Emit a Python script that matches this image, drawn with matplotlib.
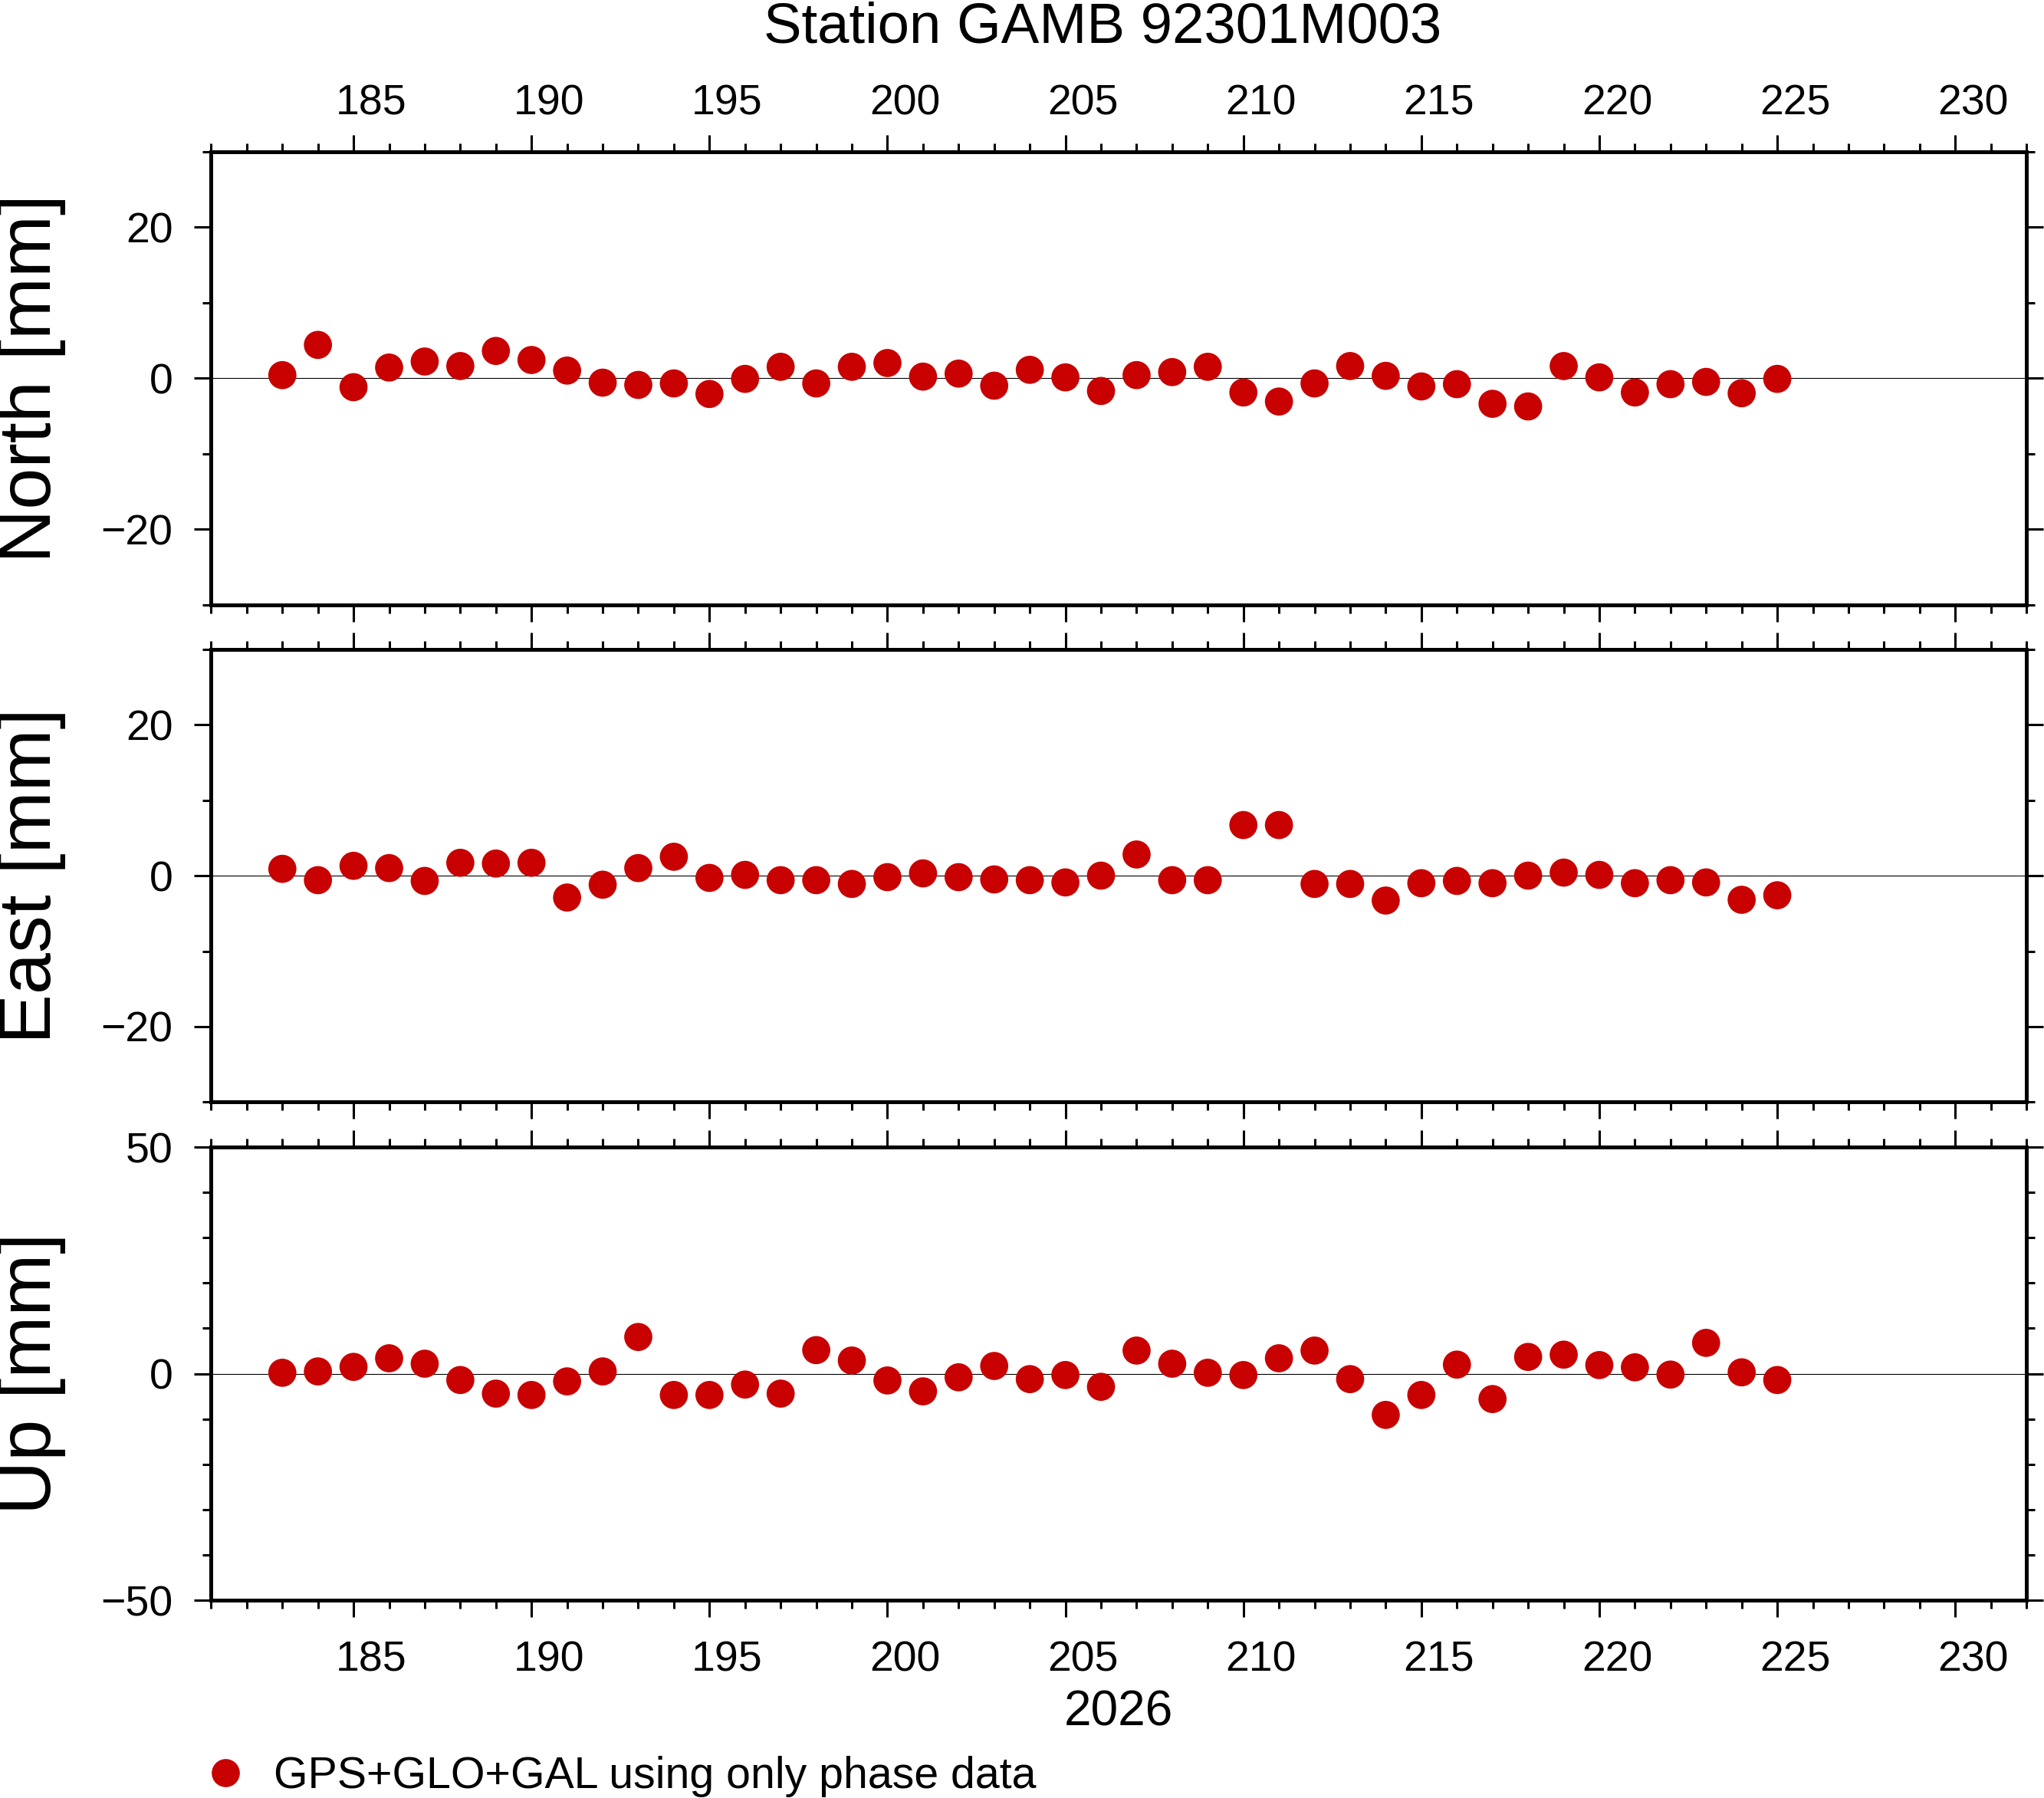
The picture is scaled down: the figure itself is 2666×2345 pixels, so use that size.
import matplotlib
matplotlib.use('Agg')
import matplotlib.pyplot as plt
from matplotlib.ticker import MultipleLocator, FixedLocator, NullFormatter
from matplotlib.transforms import ScaledTranslation
from matplotlib.lines import Line2D

plt.rcParams['font.family'] = ['Liberation Sans', 'DejaVu Sans']
plt.rcParams['axes.unicode_minus'] = True

# ---------------- data ----------------
days = list(range(183, 226))
north = [0.4, 4.4, -1.2, 1.4, 2.2, 1.6, 3.6, 2.4, 1.0, -0.6,
         -0.9, -0.7, -2.1, -0.1, 1.5, -0.7, 1.5, 2.0, 0.2, 0.6,
         -1.0, 1.1, 0.1, -1.7, 0.4, 0.8, 1.5, -1.9, -3.1, -0.7,
         1.6, 0.3, -1.1, -0.8, -3.4, -3.75, 1.6, 0.1, -1.9, -0.8,
         -0.5, -2.0, -0.1]
east = [0.9, -0.6, 1.3, 1.0, -0.7, 1.7, 1.6, 1.7, -2.9, -1.2,
        1.0, 2.5, -0.3, 0.1, -0.6, -0.6, -1.1, -0.2, 0.3, -0.2,
        -0.5, -0.6, -0.9, 0.0, 2.8, -0.6, -0.6, 6.7, 6.7, -1.1,
        -1.1, -3.3, -1.0, -0.7, -1.0, 0.0, 0.4, 0.1, -1.0, -0.6,
        -0.9, -3.2, -2.6]
up = [0.2, 0.5, 1.5, 3.4, 2.2, -1.4, -4.4, -4.7, -1.7, 0.5,
      8.1, -4.7, -4.7, -2.4, -4.4, 5.2, 2.9, -1.5, -3.9, -0.8,
      1.7, -1.2, -0.3, -2.9, 5.1, 2.2, 0.2, -0.3, 3.4, 5.1,
      -1.2, -9.1, -4.7, 2.0, -5.6, 3.7, 4.2, 1.9, 1.4, -0.2,
      6.8, 0.3, -1.4]

components = ["North [mm]", "East [mm]", "Up [mm]"]
series = [north, east, up]
ylims = [(-30, 30), (-30, 30), (-50, 50)]
ymajor = [20, 20, 50]
xticks = [185, 190, 195, 200, 205, 210, 215, 220, 225, 230]
title = "Station GAMB 92301M003"
year_label = "2026"
legend_label = "GPS+GLO+GAL using only phase data"
dot_color = '#c80000'

# ---------------- figure ----------------
DPI = 200
fig = plt.figure(figsize=(2666 / DPI, 2345 / DPI), dpi=DPI)

left, width, height = 0.1033, 0.8881, 0.2520
bottoms = [0.6637, 0.3870, 0.1100]

shift_bottom = ScaledTranslation(23 / DPI, 0, fig.dpi_scale_trans)
shift_top = ScaledTranslation(23 / DPI, -17 / DPI, fig.dpi_scale_trans)

for i, (name, vals, yl, ym, b) in enumerate(zip(components, series, ylims, ymajor, bottoms)):
    ax = fig.add_axes([left, b, width, height])
    ax.axhline(0, color='black', lw=0.4, zorder=1)
    ax.scatter(days, vals, s=13.2 ** 2, color=dot_color, edgecolors='none', zorder=3, clip_on=False)
    ax.set_xlim(181, 232)
    ax.set_ylim(*yl)

    ax.xaxis.set_major_locator(FixedLocator(xticks))
    ax.xaxis.set_minor_locator(MultipleLocator(1))
    ax.yaxis.set_major_locator(MultipleLocator(ym))
    ax.yaxis.set_minor_locator(MultipleLocator(10))

    for sp in ax.spines.values():
        sp.set_linewidth(1.8)

    ax.tick_params(axis='both', which='both', direction='out', top=True, bottom=True,
                   left=True, right=True, width=1.1, colors='black')
    ax.tick_params(axis='both', which='major', length=8)
    ax.tick_params(axis='both', which='minor', length=4)
    ax.tick_params(axis='y', which='major', labelsize=20, pad=10, labelleft=True, labelright=False)
    ax.tick_params(axis='x', which='major', labelsize=20, pad=11,
                   labeltop=(i == 0), labelbottom=(i == 2))
    ax.xaxis.set_minor_formatter(NullFormatter())

    ax.set_xticks(xticks)
    for tick in ax.xaxis.get_major_ticks():
        tick.label1.set_transform(tick.label1.get_transform() + shift_bottom)
        tick.label2.set_transform(tick.label2.get_transform() + shift_top)

    fig.text(0.0154, b + height / 2, name, rotation=90, ha='center', va='center', fontsize=35)

fig.text(0.5394, 0.9765, title, ha='center', va='baseline', fontsize=26.8)
fig.text(0.5473, 0.0405, year_label, ha='center', va='baseline', fontsize=23)

# legend
fig.add_artist(Line2D([0.1103], [0.0142], marker='o', markersize=13.2, color=dot_color,
                      markeredgewidth=0, linestyle='none', transform=fig.transFigure))
fig.text(0.134, 0.0055, legend_label, ha='left', va='baseline', fontsize=20.6)

fig.savefig('out.png', dpi=DPI)
